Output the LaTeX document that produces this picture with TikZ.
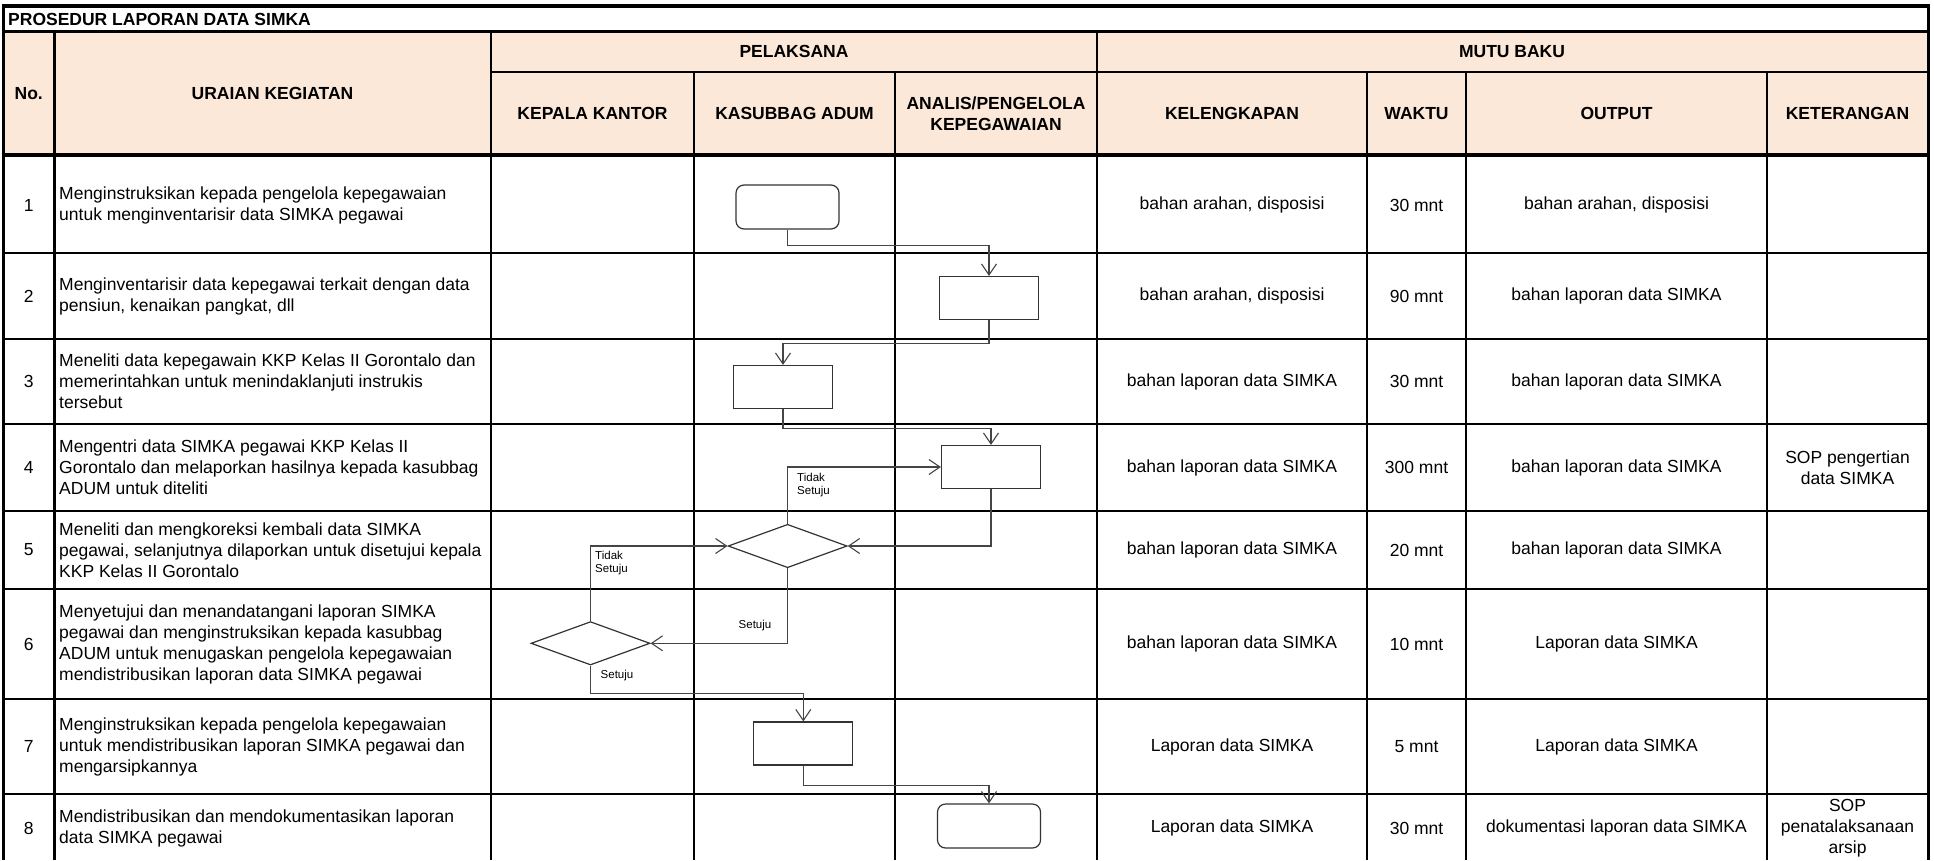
\documentclass[tikz,border=0pt]{standalone}
\usepackage{fontspec}
\setmainfont{Liberation Sans}
\usetikzlibrary{arrows.meta,shapes.geometric}
\definecolor{hdrfill}{HTML}{FCE8D9}
\definecolor{flowline}{HTML}{454545}
\definecolor{shapeline}{HTML}{333333}
\begin{document}
\begin{tikzpicture}[x=1pt,y=-1pt,
  thickrule/.style={line width=3.5pt,black},
  gridrule/.style={line width=2.2pt,black},
  body/.style={font=\fontsize{17.5}{21}\selectfont,inner sep=0pt},
  lefttext/.style={body,anchor=west,align=left},
  ctext/.style={body,align=center},
  hdr/.style={font=\bfseries\fontsize{17.5}{21}\selectfont,inner sep=0pt,align=center},
  small/.style={font=\fontsize{11.5}{13}\selectfont,inner sep=0pt,align=left},
  procbox/.style={draw=shapeline,line width=1.2pt,minimum width=99pt,minimum height=43pt,inner sep=0pt},
  termbox/.style={procbox,rounded corners=8pt,minimum width=103pt,minimum height=44pt},
  decbox/.style={diamond,draw=shapeline,line width=1.2pt,minimum width=119pt,minimum height=43.4pt,inner sep=0pt},
  conn/.style={draw=flowline,line width=1.1pt,-{Straight Barb[length=11pt,width=15pt]}}
]
\useasboundingbox (0,0) rectangle (1934,860);
% header background
\fill[hdrfill] (3.5,31) rectangle (1928.5,155);
% grid
\draw[gridrule] (491,72) -- (1928.5,72);
\foreach \yy in {253,339,424,511,589,699,794}{\draw[gridrule] (3.5,\yy) -- (1928.5,\yy);}
\foreach \xx in {54.5,491,1097}{\draw[gridrule] (\xx,31) -- (\xx,860);}
\foreach \xx in {694,895,1367,1466,1767}{\draw[gridrule] (\xx,72) -- (\xx,860);}
\draw[line width=3pt] (3.5,31) -- (1928.5,31);
\draw[thickrule] (3.5,155) -- (1928.5,155);
\draw[thickrule] (3.5,860) -- (3.5,6) -- (1928.5,6) -- (1928.5,860);
% title and headers
\node[hdr,anchor=west] (title) at (8,19) {PROSEDUR LAPORAN DATA SIMKA};
\node[hdr] (hno) at (28.75,93.5) {No.};
\node[hdr] (hur) at (272.5,93.5) {URAIAN KEGIATAN};
\node[hdr] (hpel) at (794,51.5) {PELAKSANA};
\node[hdr] (hmut) at (1512,51.5) {MUTU BAKU};
\node[hdr] (hkk) at (592.5,113.5) {KEPALA KANTOR};
\node[hdr] (hka) at (794.5,113.5) {KASUBBAG ADUM};
\node[hdr] (han) at (996,113.5) {ANALIS/PENGELOLA\\KEPEGAWAIAN};
\node[hdr] (hkl) at (1232,113.5) {KELENGKAPAN};
\node[hdr] (hwk) at (1416.5,113.5) {WAKTU};
\node[hdr] (hout) at (1616.5,113.5) {OUTPUT};
\node[hdr] (hket) at (1847.5,113.5) {KETERANGAN};
% row 1
\node[ctext] (n1) at (28.75,205) {1};
\node[lefttext] (u1) at (59,205) {Menginstruksikan kepada pengelola kepegawaian\\untuk menginventarisir data SIMKA pegawai};
\node[ctext] (k1) at (1232,205) {bahan arahan, disposisi};
\node[ctext] (w1) at (1416.5,205) {30 mnt};
\node[ctext] (o1) at (1616.5,205) {bahan arahan, disposisi};
% row 2
\node[ctext] (n2) at (28.75,296) {2};
\node[lefttext] (u2) at (59,296) {Menginventarisir data kepegawai terkait dengan data\\pensiun, kenaikan pangkat, dll};
\node[ctext] (k2) at (1232,296) {bahan arahan, disposisi};
\node[ctext] (w2) at (1416.5,296) {90 mnt};
\node[ctext] (o2) at (1616.5,296) {bahan laporan data SIMKA};
% row 3
\node[ctext] (n3) at (28.75,381.5) {3};
\node[lefttext] (u3) at (59,381.5) {Meneliti data kepegawain KKP Kelas II Gorontalo dan\\memerintahkan untuk menindaklanjuti instrukis\\tersebut};
\node[ctext] (k3) at (1232,381.5) {bahan laporan data SIMKA};
\node[ctext] (w3) at (1416.5,381.5) {30 mnt};
\node[ctext] (o3) at (1616.5,381.5) {bahan laporan data SIMKA};
% row 4
\node[ctext] (n4) at (28.75,467.5) {4};
\node[lefttext] (u4) at (59,467.5) {Mengentri data SIMKA pegawai KKP Kelas II\\Gorontalo dan melaporkan hasilnya kepada kasubbag\\ADUM untuk diteliti};
\node[ctext] (k4) at (1232,467.5) {bahan laporan data SIMKA};
\node[ctext] (w4) at (1416.5,467.5) {300 mnt};
\node[ctext] (o4) at (1616.5,467.5) {bahan laporan data SIMKA};
\node[ctext] (ket4) at (1847.5,467.5) {SOP pengertian\\data SIMKA};
% row 5
\node[ctext] (n5) at (28.75,550) {5};
\node[lefttext] (u5) at (59,550) {Meneliti dan mengkoreksi kembali data SIMKA\\pegawai, selanjutnya dilaporkan untuk disetujui kepala\\KKP Kelas II Gorontalo};
\node[ctext] (k5) at (1232,550) {bahan laporan data SIMKA};
\node[ctext] (w5) at (1416.5,550) {20 mnt};
\node[ctext] (o5) at (1616.5,550) {bahan laporan data SIMKA};
% row 6
\node[ctext] (n6) at (28.75,644) {6};
\node[lefttext] (u6) at (59,644) {Menyetujui dan menandatangani laporan SIMKA\\pegawai dan menginstruksikan kepada kasubbag\\ADUM untuk menugaskan pengelola kepegawaian\\mendistribusikan laporan data SIMKA pegawai};
\node[ctext] (k6) at (1232,644) {bahan laporan data SIMKA};
\node[ctext] (w6) at (1416.5,644) {10 mnt};
\node[ctext] (o6) at (1616.5,644) {Laporan data SIMKA};
% row 7
\node[ctext] (n7) at (28.75,746.5) {7};
\node[lefttext] (u7) at (59,746.5) {Menginstruksikan kepada pengelola kepegawaian\\untuk mendistribusikan laporan SIMKA pegawai dan\\mengarsipkannya};
\node[ctext] (k7) at (1232,746.5) {Laporan data SIMKA};
\node[ctext] (w7) at (1416.5,746.5) {5 mnt};
\node[ctext] (o7) at (1616.5,746.5) {Laporan data SIMKA};
% row 8
\node[ctext] (n8) at (28.75,828) {8};
\node[lefttext] (u8) at (59,828) {Mendistribusikan dan mendokumentasikan laporan\\data SIMKA pegawai};
\node[ctext] (k8) at (1232,828) {Laporan data SIMKA};
\node[ctext] (w8) at (1416.5,828) {30 mnt};
\node[ctext] (o8) at (1616.5,828) {dokumentasi laporan data SIMKA};
\node[ctext] (ket8) at (1847.5,828) {SOP\\penatalaksanaan\\arsip};
% flowchart shapes
\node[termbox] (t1) at (787.5,207) {};
\node[procbox] (p2) at (989,298) {};
\node[procbox] (p3) at (783,387) {};
\node[procbox] (p4) at (991,467) {};
\node[decbox] (d5) at (787.6,546) {};
\node[decbox] (d6) at (590.5,643.3) {};
\node[procbox] (p7) at (803.3,743.5) {};
\node[termbox] (t8) at (989,826) {};
% connectors
\draw[conn] (t1.south) -- ++(0,16) -| (p2.north);
\draw[conn] (p2.south) -- ++(0,23) -| (p3.north);
\draw[conn] (p3.south) -- ++(0,19) -| (p4.north);
\draw[conn] (p4.south) |- (d5.east);
\draw[conn] (d5.north) |- (p4.west);
\draw[conn] (d5.south) |- (d6.east);
\draw[conn] (d6.north) |- (d5.west);
\draw[conn] (d6.south) -- ++(0,28) -| (p7.north);
\draw[conn] (p7.south) -- ++(0,20) -| (t8.north);
% connector labels
\node[small,anchor=west] (lts1) at (797,485.5) {Tidak\\Setuju};
\node[small,anchor=west] (lts2) at (595,563) {Tidak\\Setuju};
\node[small] (ls1) at (755,626) {Setuju};
\node[small] (ls2) at (617,676) {Setuju};
\end{tikzpicture}
\end{document}
